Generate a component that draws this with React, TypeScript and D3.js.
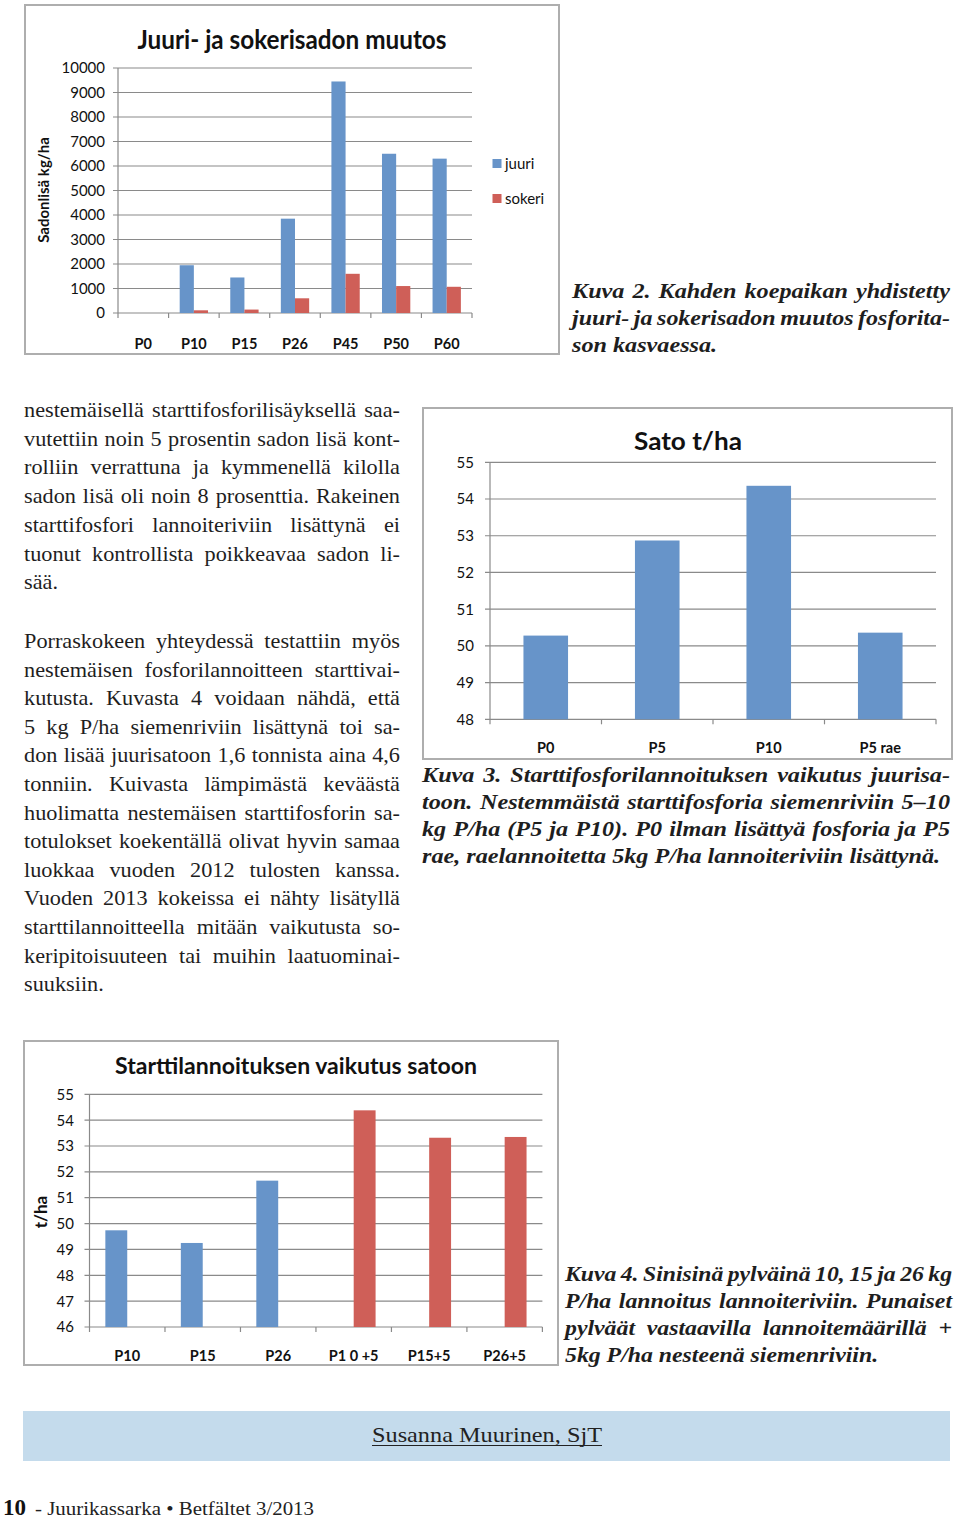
import React from "react";
import * as d3 from "d3";

// ---------- DATA ----------
const cats1 = ["P0", "P10", "P15", "P26", "P45", "P50", "P60"];
const juuri = [0, 1950, 1450, 3850, 9450, 6500, 6300];
const sokeri = [0, 110, 140, 600, 1600, 1100, 1070];
const ticks1 = [0, 1000, 2000, 3000, 4000, 5000, 6000, 7000, 8000, 9000, 10000];

const cats2 = ["P0", "P5", "P10", "P5 rae"];
const sato = [50.28, 52.87, 54.36, 50.36];
const ticks2 = [48, 49, 50, 51, 52, 53, 54, 55];

const cats3 = ["P10", "P15", "P26", "P1 0 +5", "P15+5", "P26+5"];
const blue3: (number | null)[] = [49.74, 49.25, 51.66, null, null, null];
const red3: (number | null)[] = [null, null, null, 54.38, 53.32, 53.35];
const ticks3 = [46, 47, 48, 49, 50, 51, 52, 53, 54, 55];

const para1 = [
  "nestemäisellä starttifosforilisäyksellä saa-",
  "vutettiin noin 5 prosentin sadon lisä kont-",
  "rolliin verrattuna ja kymmenellä kilolla",
  "sadon lisä oli noin 8 prosenttia. Rakeinen",
  "starttifosfori lannoiteriviin lisättynä ei",
  "tuonut kontrollista poikkeavaa sadon li-",
  "sää.",
];
const para2 = [
  "Porraskokeen yhteydessä testattiin myös",
  "nestemäisen fosforilannoitteen starttivai-",
  "kutusta. Kuvasta 4 voidaan nähdä, että",
  "5 kg P/ha siemenriviin lisättynä toi sa-",
  "don lisää juurisatoon 1,6 tonnista aina 4,6",
  "tonniin. Kuivasta lämpimästä keväästä",
  "huolimatta nestemäisen starttifosforin sa-",
  "totulokset koekentällä olivat hyvin samaa",
  "luokkaa vuoden 2012 tulosten kanssa.",
  "Vuoden 2013 kokeissa ei nähty lisätyllä",
  "starttilannoitteella mitään vaikutusta so-",
  "keripitoisuuteen tai muihin laatuominai-",
  "suuksiin.",
];
const caption2 = [
  "Kuva 2. Kahden koepaikan yhdistetty",
  "juuri- ja sokerisadon muutos fosforita-",
  "son kasvaessa.",
];
const caption3 = [
  "Kuva 3. Starttifosforilannoituksen vaikutus juurisa-",
  "toon. Nestemmäistä starttifosforia siemenriviin 5–10",
  "kg P/ha (P5 ja P10). P0 ilman lisättyä fosforia ja P5",
  "rae, raelannoitetta 5kg P/ha lannoiteriviin lisättynä.",
];
const caption4 = [
  "Kuva 4. Sinisinä pylväinä 10, 15 ja 26 kg",
  "P/ha lannoitus lannoiteriviin. Punaiset",
  "pylväät vastaavilla lannoitemäärillä +",
  "5kg P/ha nesteenä siemenriviin.",
];

// ---------- STYLE ----------
const BLUE = "#6794c9";
const RED = "#cf5f58";
const GRID = "#8a8a8a";
const FRAME = "#aeaeae";
const SANS = "Lato, 'Open Sans', sans-serif";
const SERIF = "'Liberation Serif', 'DejaVu Serif', serif";
const TXT = "#1e1e1e";

let ctx: CanvasRenderingContext2D | null = null;
function measure(s: string, font: string) {
  if (!ctx && typeof document !== "undefined") {
    ctx = document.createElement("canvas").getContext("2d");
  }
  if (!ctx) return s.length * 9;
  ctx.font = font;
  return ctx.measureText(s).width;
}

type BlockProps = {
  lines: string[];
  x: number;
  width: number;
  y0: number;
  lh: number;
  size: number;
  weight?: string;
  italic?: boolean;
  stretch?: number;
};

function Justified({ lines, x, width, y0, lh, size, weight = "normal", italic = false, stretch = 1 }: BlockProps) {
  const style = italic ? "italic" : "normal";
  const font = `${style} ${weight} ${size}px ${SERIF}`;
  const spaceW = measure(" ", font) * stretch;
  return (
    <g>
      {lines.map((line, i) => {
        const words = line.split(" ");
        const widths = words.map((w) => measure(w, font) * stretch);
        const sum = d3.sum(widths);
        const last = i === lines.length - 1;
        let gap = spaceW;
        let k = 1;
        const minGap = spaceW * 0.75;
        if (!last && words.length > 1) {
          gap = (width - sum) / (words.length - 1);
          if (gap < minGap) {
            gap = minGap;
            k = (width - minGap * (words.length - 1)) / sum;
          }
        } else {
          const nat = sum + spaceW * (words.length - 1);
          if (nat > width) k = (width - spaceW * (words.length - 1)) / sum;
        }
        let cx = x;
        const y = y0 + i * lh;
        const adjust = k !== 1 || stretch !== 1;
        return (
          <g key={i}>
            {words.map((w, j) => {
              const wx = cx;
              const ww = widths[j] * k;
              cx += ww + gap;
              return (
                <text
                  key={j}
                  x={wx}
                  y={y}
                  fontFamily={SERIF}
                  fontSize={size}
                  fontWeight={weight}
                  fontStyle={style}
                  fill={TXT}
                  {...(adjust ? { textLength: ww, lengthAdjust: "spacingAndGlyphs" } : {})}
                >
                  {w}
                </text>
              );
            })}
          </g>
        );
      })}
    </g>
  );
}

function YAxisGrid({
  y,
  ticks,
  x0,
  x1,
  labelX,
}: {
  y: d3.ScaleLinear<number, number>;
  ticks: number[];
  x0: number;
  x1: number;
  labelX: number;
}) {
  return (
    <g>
      {ticks.map((t) => (
        <g key={t}>
          <line x1={x0 - 5} x2={x1} y1={y(t)} y2={y(t)} stroke={GRID} strokeWidth={1.2} />
          <text
            x={labelX}
            y={y(t)}
            dy="0.36em"
            textAnchor="end"
            fontFamily={SANS}
            fontSize={15}
            fill="#111"
          >
            {t}
          </text>
        </g>
      ))}
      <line x1={x0} x2={x0} y1={y(ticks[0])} y2={y(ticks[ticks.length - 1])} stroke={GRID} strokeWidth={1.2} />
    </g>
  );
}

function XAxis({
  x,
  cats,
  yAxis,
  labelY,
}: {
  x: d3.ScaleBand<string>;
  cats: string[];
  yAxis: number;
  labelY: number;
}) {
  const step = x.step();
  const [r0] = x.range();
  const bounds = d3.range(cats.length + 1).map((i) => r0 + i * step);
  return (
    <g>
      {bounds.map((b, i) => (
        <line key={i} x1={b} x2={b} y1={yAxis} y2={yAxis + 5} stroke={GRID} strokeWidth={1.2} />
      ))}
      {cats.map((c) => (
        <text
          key={c}
          x={(x(c) as number) + x.bandwidth() / 2}
          y={labelY}
          textAnchor="middle"
          fontFamily={SANS}
          fontWeight="bold"
          fontSize={14.5}
          fill="#111"
        >
          {c}
        </text>
      ))}
    </g>
  );
}

function Chart1() {
  const x = d3.scaleBand<string>().domain(cats1).range([118, 472]).padding(0);
  const y = d3.scaleLinear().domain([0, 10000]).range([313, 68]);
  const bw = x.step() * 0.28;
  return (
    <g>
      <rect x={25} y={5} width={534} height={349} fill="#fff" stroke={FRAME} strokeWidth={2} />
      <text x={292} y={49} textAnchor="middle" fontFamily={SANS} fontWeight="bold" fontSize={27}
        fill="#111" textLength={309} lengthAdjust="spacingAndGlyphs">
        Juuri- ja sokerisadon muutos
      </text>
      <YAxisGrid y={y} ticks={ticks1} x0={118} x1={472} labelX={105} />
      {cats1.map((c, i) => {
        const cx = (x(c) as number) + x.bandwidth() / 2;
        return (
          <g key={c}>
            {juuri[i] > 0 && (
              <rect x={cx - bw} y={y(juuri[i])} width={bw} height={y(0) - y(juuri[i])} fill={BLUE} />
            )}
            {sokeri[i] > 0 && (
              <rect x={cx} y={y(sokeri[i])} width={bw} height={y(0) - y(sokeri[i])} fill={RED} />
            )}
          </g>
        );
      })}
      <XAxis x={x} cats={cats1} yAxis={y(0)} labelY={349} />
      <text transform="translate(49,190) rotate(-90)" textAnchor="middle" fontFamily={SANS}
        fontWeight="bold" fontSize={15} fill="#111">
        Sadonlisä kg/ha
      </text>
      <rect x={492.5} y={159} width={9} height={9} fill={BLUE} />
      <text x={505} y={169} fontFamily={SANS} fontSize={15} fill="#111">juuri</text>
      <rect x={492.5} y={194} width={9} height={9} fill={RED} />
      <text x={505} y={204} fontFamily={SANS} fontSize={15} fill="#111">sokeri</text>
    </g>
  );
}

function Chart2() {
  const x = d3.scaleBand<string>().domain(cats2).range([490, 936]).padding(0);
  const y = d3.scaleLinear().domain([48, 55]).range([719.3, 462.3]);
  const bw = x.step() * 0.4;
  return (
    <g>
      <rect x={423} y={408} width={529} height={351} fill="#fff" stroke={FRAME} strokeWidth={2} />
      <text x={688} y={450} textAnchor="middle" fontFamily={SANS} fontWeight="bold" fontSize={24}
        fill="#111" textLength={108} lengthAdjust="spacingAndGlyphs">
        Sato t/ha
      </text>
      <YAxisGrid y={y} ticks={ticks2} x0={490} x1={936} labelX={474} />
      {cats2.map((c, i) => {
        const cx = (x(c) as number) + x.bandwidth() / 2;
        return <rect key={c} x={cx - bw / 2} y={y(sato[i])} width={bw} height={y(48) - y(sato[i])} fill={BLUE} />;
      })}
      <XAxis x={x} cats={cats2} yAxis={y(48)} labelY={753} />
    </g>
  );
}

function Chart3() {
  const x = d3.scaleBand<string>().domain(cats3).range([89.5, 542.4]).padding(0);
  const y = d3.scaleLinear().domain([46, 55]).range([1327, 1094.3]);
  const bw = x.step() * 0.29;
  return (
    <g>
      <rect x={24} y={1041} width={534} height={324} fill="#fff" stroke={FRAME} strokeWidth={2} />
      <text x={296} y={1074} textAnchor="middle" fontFamily={SANS} fontWeight="bold" fontSize={22}
        fill="#111" textLength={362} lengthAdjust="spacingAndGlyphs">
        Starttilannoituksen vaikutus satoon
      </text>
      <YAxisGrid y={y} ticks={ticks3} x0={89.5} x1={542.4} labelX={74} />
      {cats3.map((c, i) => {
        const cx = (x(c) as number) + x.bandwidth() / 2;
        const b = blue3[i];
        const r = red3[i];
        return (
          <g key={c}>
            {b != null && <rect x={cx - bw} y={y(b)} width={bw} height={y(46) - y(b)} fill={BLUE} />}
            {r != null && <rect x={cx} y={y(r)} width={bw} height={y(46) - y(r)} fill={RED} />}
          </g>
        );
      })}
      <XAxis x={x} cats={cats3} yAxis={y(46)} labelY={1361} />
      <text transform="translate(46.5,1212) rotate(-90)" textAnchor="middle" fontFamily={SANS}
        fontWeight="bold" fontSize={17} fill="#111">
        t/ha
      </text>
    </g>
  );
}

export default function App() {
  return (
    <svg
      width={960}
      height={1521}
      viewBox="0 0 960 1521"
      style={{ position: "absolute", left: 0, top: 0, display: "block", background: "#fff" }}
    >
      <rect x={0} y={0} width={960} height={1521} fill="#fff" />
      <Chart1 />
      <Justified lines={caption2} x={572} width={378} y0={297.5} lh={27.3} size={20.5} weight="bold" italic stretch={1.18} />
      <Justified lines={para1} x={24} width={376} y0={417} lh={28.7} size={21} stretch={1.06} />
      <Justified lines={para2} x={24} width={376} y0={648} lh={28.6} size={21} stretch={1.06} />
      <Chart2 />
      <Justified lines={caption3} x={422} width={528} y0={782} lh={27} size={20.5} weight="bold" italic stretch={1.18} />
      <Chart3 />
      <Justified lines={caption4} x={565} width={387} y0={1280.5} lh={27} size={20.5} weight="bold" italic stretch={1.16} />
      <rect x={23} y={1411} width={927} height={50} fill="#c4dbec" />
      <text x={487} y={1442} textAnchor="middle" fontFamily={SERIF} fontSize={22} fill="#222"
        textLength={230} lengthAdjust="spacingAndGlyphs">
        Susanna Muurinen, SjT
      </text>
      <line x1={372} x2={602} y1={1445.5} y2={1445.5} stroke="#222" strokeWidth={1.2} />
      <text x={3} y={1515} fontFamily={SERIF} fontWeight="bold" fontSize={23} fill="#111"
        textLength={23} lengthAdjust="spacingAndGlyphs">
        10
      </text>
      <text x={35} y={1515} fontFamily={SERIF} fontSize={19} fill="#222"
        textLength={279} lengthAdjust="spacingAndGlyphs">
        - Juurikassarka • Betfältet 3/2013
      </text>
    </svg>
  );
}
